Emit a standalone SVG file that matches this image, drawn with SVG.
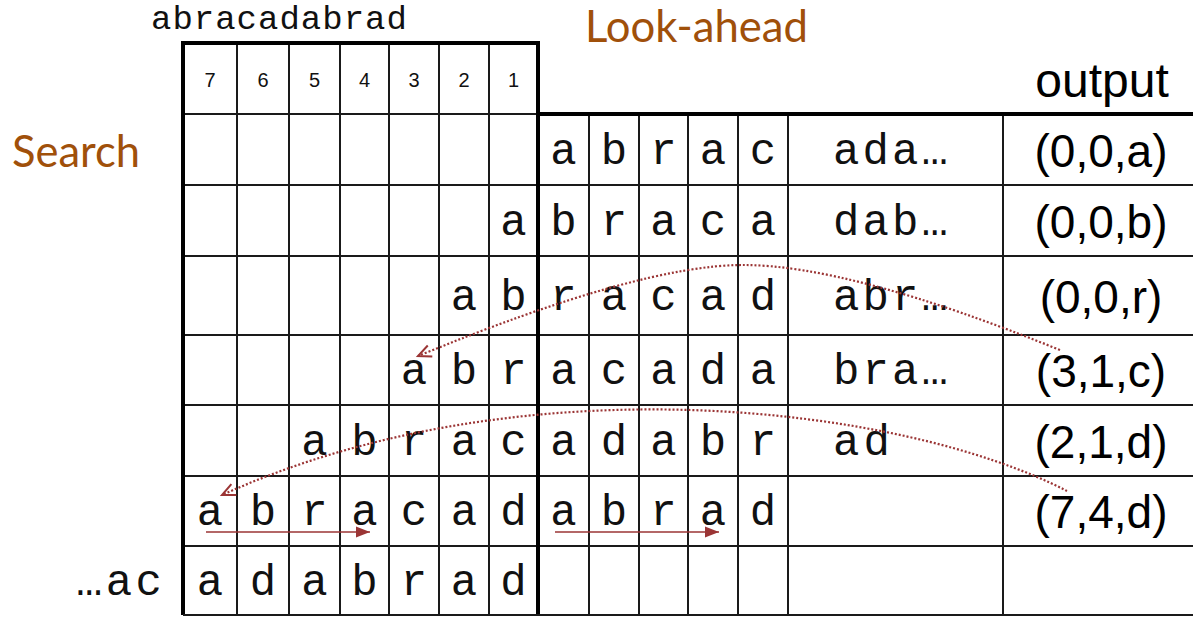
<svg xmlns="http://www.w3.org/2000/svg" width="1193" height="617" viewBox="0 0 1193 617">
<style>
.m{font-family:"Liberation Mono","DejaVu Sans Mono",monospace;font-size:44px;text-anchor:middle;fill:#111}
.ms{font-family:"Liberation Mono","DejaVu Sans Mono",monospace;font-size:44px;fill:#111}
.hd{font-family:"Liberation Mono","DejaVu Sans Mono",monospace;font-size:34px;letter-spacing:1px;fill:#111}
.o{font-family:"Liberation Sans",Arial,sans-serif;font-size:46px;text-anchor:middle;fill:#000}
.out{font-family:"Liberation Sans",Arial,sans-serif;font-size:48px;text-anchor:middle;fill:#000}
.n{font-family:"Liberation Sans",Arial,sans-serif;font-size:20px;text-anchor:middle;fill:#111}
.lab{font-family:Lato,"Open Sans",sans-serif;font-size:44px;fill:#A0500A}
.g{stroke:#1a1a1a;stroke-width:2;fill:none}
.gt{stroke:#000;stroke-width:4;fill:none}
.blue{stroke:#4F81BD;stroke-width:5;fill:none;stroke-linecap:round;filter:url(#sh)}
.dot{stroke:#9B3535;stroke-width:2.2;fill:none;stroke-dasharray:2 2}
.red{stroke:#9B3535;stroke-width:1.6;fill:none}
</style>
<defs>
<filter id="sh" x="-10%" y="-100%" width="120%" height="300%">
<feDropShadow dx="2" dy="3" stdDeviation="2" flood-color="#000" flood-opacity="0.3"/>
</filter>
<marker id="chev" markerUnits="userSpaceOnUse" markerWidth="30" markerHeight="30" refX="21" refY="11" orient="auto-start-reverse" overflow="visible">
<path d="M0,0 L21,11 L0,22" fill="none" stroke="#4F81BD" stroke-width="5" stroke-linecap="round" stroke-linejoin="round"/>
</marker>
<marker id="open" markerUnits="userSpaceOnUse" markerWidth="20" markerHeight="20" refX="0" refY="0" orient="auto" overflow="visible">
<path d="M-13,-6 L0,0 L-13,6" fill="none" stroke="#9B3535" stroke-width="2" stroke-dasharray="none"/>
</marker>
<marker id="tri" markerUnits="userSpaceOnUse" markerWidth="20" markerHeight="20" refX="0" refY="0" orient="auto" overflow="visible">
<path d="M-14,-5.5 L0,0 L-14,5.5 Z" fill="#9B3535" stroke="none"/>
</marker>
</defs>
<rect width="1193" height="617" fill="#fff"/>

<g id="grid">
<path class="g" d="M237,43V615 M289,43V615 M340,43V615 M389,43V615 M439,43V615 M489,43V615"/>
<path class="g" d="M183,114H538 M183,185H1193 M183,256H1193 M183,335H1193 M183,405H1193 M183,476H1193 M183,546H1193"/>
<path class="g" d="M589,114V615 M639,114V615 M688,114V615 M738,114V615 M788,114V615 M1003,114V615"/>
<path class="gt" d="M183,615V43H538V615"/>
<path class="gt" d="M538,114H1193" stroke-width="3.5"/>
<path class="g" d="M183,615H1193" stroke-width="3"/>
</g>

<g id="header">
<text class="hd" x="151" y="29">abracadabrad</text>
<text class="n" x="210" y="87">7</text>
<text class="n" x="263" y="87">6</text>
<text class="n" x="314.5" y="87">5</text>
<text class="n" x="364.5" y="87">4</text>
<text class="n" x="414" y="87">3</text>
<text class="n" x="464" y="87">2</text>
<text class="n" x="513.5" y="87">1</text>
<text class="lab" x="585" y="42" textLength="223" lengthAdjust="spacingAndGlyphs">Look-ahead</text>
<text class="lab" x="12" y="167" textLength="128" lengthAdjust="spacingAndGlyphs">Search</text>
<text class="out" x="1102" y="97">output</text>
</g>

<g id="row1">
<text class="m" x="563.5" y="163.5">a</text><text class="m" x="614" y="163.5">b</text><text class="m" x="663.5" y="163.5">r</text><text class="m" x="713" y="163.5">a</text><text class="m" x="763" y="163.5">c</text>
<text class="ms" x="833" y="163.5" textLength="115" lengthAdjust="spacing">ada…</text>
<text class="o" x="1101" y="166.5">(0,0,a)</text>
</g>
<g id="row2">
<text class="m" x="513.5" y="234.5">a</text>
<text class="m" x="563.5" y="234.5">b</text><text class="m" x="614" y="234.5">r</text><text class="m" x="663.5" y="234.5">a</text><text class="m" x="713" y="234.5">c</text><text class="m" x="763" y="234.5">a</text>
<text class="ms" x="833" y="234.5" textLength="115" lengthAdjust="spacing">dab…</text>
<text class="o" x="1101" y="237.5">(0,0,b)</text>
</g>
<g id="row3">
<text class="m" x="464" y="309.5">a</text><text class="m" x="513.5" y="309.5">b</text>
<text class="m" x="563.5" y="309.5">r</text><text class="m" x="614" y="309.5">a</text><text class="m" x="663.5" y="309.5">c</text><text class="m" x="713" y="309.5">a</text><text class="m" x="763" y="309.5">d</text>
<text class="ms" x="833" y="309.5" textLength="115" lengthAdjust="spacing">abr…</text>
<text class="o" x="1101" y="312.5">(0,0,r)</text>
</g>
<g id="row4">
<text class="m" x="414" y="384">a</text><text class="m" x="464" y="384">b</text><text class="m" x="513.5" y="384">r</text>
<text class="m" x="563.5" y="384">a</text><text class="m" x="614" y="384">c</text><text class="m" x="663.5" y="384">a</text><text class="m" x="713" y="384">d</text><text class="m" x="763" y="384">a</text>
<text class="ms" x="833" y="384" textLength="115" lengthAdjust="spacing">bra…</text>
<text class="o" x="1101" y="387">(3,1,c)</text>
</g>
<g id="row5">
<text class="m" x="314.5" y="454.5">a</text><text class="m" x="364.5" y="454.5">b</text><text class="m" x="414" y="454.5">r</text><text class="m" x="464" y="454.5">a</text><text class="m" x="513.5" y="454.5">c</text>
<text class="m" x="563.5" y="454.5">a</text><text class="m" x="614" y="454.5">d</text><text class="m" x="663.5" y="454.5">a</text><text class="m" x="713" y="454.5">b</text><text class="m" x="763" y="454.5">r</text>
<text class="ms" x="833" y="454.5" textLength="57" lengthAdjust="spacing">ad</text>
<text class="o" x="1101" y="457.5">(2,1,d)</text>
</g>
<g id="row6">
<text class="m" x="210" y="525">a</text><text class="m" x="263" y="525">b</text><text class="m" x="314.5" y="525">r</text><text class="m" x="364.5" y="525">a</text><text class="m" x="414" y="525">c</text><text class="m" x="464" y="525">a</text><text class="m" x="513.5" y="525">d</text>
<text class="m" x="563.5" y="525">a</text><text class="m" x="614" y="525">b</text><text class="m" x="663.5" y="525">r</text><text class="m" x="713" y="525">a</text><text class="m" x="763" y="525">d</text>
<text class="o" x="1101" y="528">(7,4,d)</text>
</g>
<g id="row7">
<text class="ms" x="76" y="594.5" textLength="86" lengthAdjust="spacing">…ac</text>
<text class="m" x="210" y="594.5">a</text><text class="m" x="263" y="594.5">d</text><text class="m" x="314.5" y="594.5">a</text><text class="m" x="364.5" y="594.5">b</text><text class="m" x="414" y="594.5">r</text><text class="m" x="464" y="594.5">a</text><text class="m" x="513.5" y="594.5">d</text>
</g>

<g id="connectors">
<path class="blue" d="M551,89H785" marker-start="url(#chev)" marker-end="url(#chev)"/>
<path class="blue" d="M186,146H534" marker-start="url(#chev)" marker-end="url(#chev)"/>
<path class="dot" d="M1060,350 Q850,265 743,265 Q640,265 418,356" marker-end="url(#open)"/>
<path class="dot" d="M1067,491 C900,405 520,360 222,495" marker-end="url(#open)"/>
<path class="red" d="M206,532H370" marker-end="url(#tri)"/>
<path class="red" d="M555,532H719" marker-end="url(#tri)"/>
</g>
</svg>
